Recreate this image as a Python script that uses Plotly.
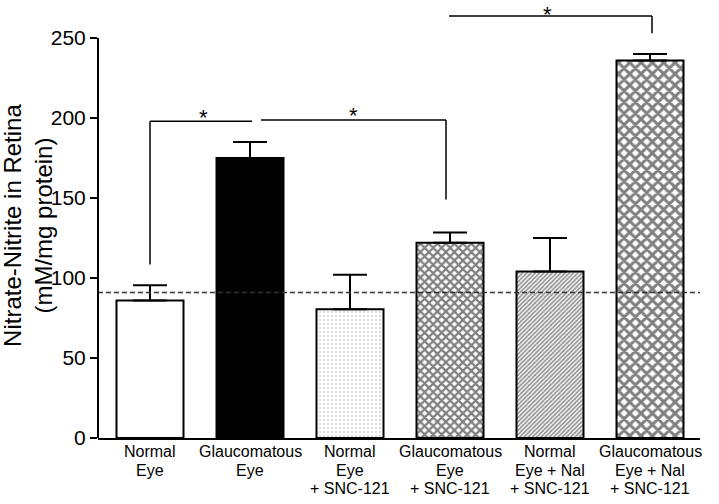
import plotly.graph_objects as go

categories = ["Normal<br>Eye", "Glaucomatous<br>Eye", "Normal<br>Eye<br>+ SNC-121",
              "Glaucomatous<br>Eye<br>+ SNC-121", "Normal<br>Eye + Nal<br>+ SNC-121",
              "Glaucomatous<br>Eye + Nal<br>+ SNC-121"]
values = [86, 175, 80.5, 122, 104, 236]
errors = [9.5, 10, 21.5, 6.5, 21, 4]
baseline = 91
yticks = [0, 50, 100, 150, 200, 250]

# significance brackets: (x_left, x_right, y_top, y_left_bottom, y_right_bottom, star_x, star_y)
brackets = [
    (0.0, 1.02, 198, 108.5, None, 0.53, 203),
    (1.11, 2.96, 198.7, None, 149, 2.03, 204),
    (2.99, 5.02, 263.7, None, 253, 3.97, 267.5),
]

FONT = "Liberation Sans, Arial, sans-serif"
x = list(range(len(categories)))

fig = go.Figure()
patterns = [
    dict(shape=""),
    dict(shape=""),
    dict(shape=".", size=4, solidity=0.15, fgcolor="#777777", bgcolor="white"),
    dict(shape="x", size=6, solidity=0.6, fgcolor="black", bgcolor="white"),
    dict(shape="/", size=3, solidity=0.55, fgcolor="#222222", bgcolor="white"),
    dict(shape="x", size=8, solidity=0.6, fgcolor="black", bgcolor="white"),
]
colors = ["white", "black", "white", "white", "white", "white"]
for i in range(len(categories)):
    fig.add_trace(go.Bar(
        x=[x[i]], y=[values[i]], width=0.67,
        marker=dict(color=colors[i], line=dict(color="black", width=2), pattern=patterns[i]),
        error_y=dict(type="data", symmetric=False, array=[errors[i]], arrayminus=[0],
                     color="black", thickness=2, width=17),
        showlegend=False, hoverinfo="skip",
    ))

YMAX = 270
fig.add_shape(type="line", xref="paper", yref="y", x0=0, x1=1, y0=baseline, y1=baseline,
              line=dict(color="#333333", width=1.5, dash="5px,3px"))
# y axis line only up to 250
fig.add_shape(type="line", xref="paper", yref="paper", x0=0, x1=0, y0=0, y1=250 / YMAX,
              line=dict(color="black", width=2))

for xl, xr, yt, ylb, yrb, sx, sy in brackets:
    fig.add_shape(type="line", x0=xl, x1=xr, y0=yt, y1=yt, line=dict(color="black", width=1.5))
    if ylb is not None:
        fig.add_shape(type="line", x0=xl, x1=xl, y0=ylb, y1=yt, line=dict(color="black", width=1.5))
    if yrb is not None:
        fig.add_shape(type="line", x0=xr, x1=xr, y0=yrb, y1=yt, line=dict(color="black", width=1.5))
    # star glyph sits high in its text box; shift the box down so the glyph centres on sy
    fig.add_annotation(x=sx, y=sy, text="*", showarrow=False, yanchor="middle", yshift=-4,
                       font=dict(family=FONT, size=22, color="black"))

# category labels, one annotation per line for the reference's tight line spacing
for i, lab in enumerate(categories):
    for k, line in enumerate(lab.split("<br>")):
        fig.add_annotation(x=x[i], y=0, yref="y", text=line, showarrow=False,
                           xanchor="center", yanchor="middle", yshift=-(13.7 + 18.3 * k),
                           font=dict(family=FONT, size=16, color="black"))

fig.add_annotation(xref="paper", yref="paper", x=-0.1155, y=0.492, textangle=-90,
                   xanchor="center", yanchor="middle",
                   text="Nitrate-Nitrite in Retina<br>(mM/mg protein)", showarrow=False,
                   font=dict(family=FONT, size=24, color="black"))

fig.update_layout(
    width=719, height=504,
    margin=dict(l=98, r=19, t=6, b=66),
    paper_bgcolor="white", plot_bgcolor="white",
    font=dict(family=FONT, color="black"),
    xaxis=dict(range=[-0.52, 5.5], tickmode="array", tickvals=x, ticktext=categories,
               showticklabels=False,
               showline=True, linecolor="black", linewidth=2, ticks="", showgrid=False,
               zeroline=False),
    yaxis=dict(range=[0, YMAX], tickmode="array", tickvals=yticks, showline=False,
               ticks="outside", ticklen=7, tickwidth=2, tickcolor="black", showgrid=False,
               zeroline=False, tickfont=dict(family=FONT, size=21, color="black")),
)

fig.write_html("out.html", config={"displayModeBar": False},
               post_script="document.body.style.margin='0';")
